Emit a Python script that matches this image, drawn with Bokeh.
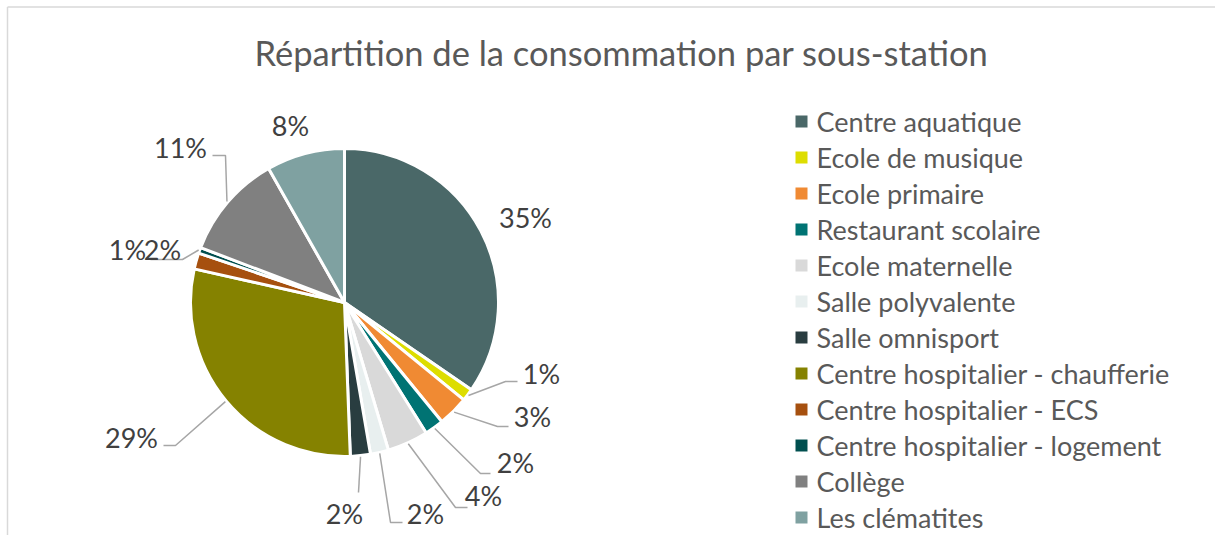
import math
from bokeh.plotting import figure
from bokeh.models import Range1d
from bokeh.core.properties import value
from bokeh.embed import file_html
from bokeh.resources import INLINE

# ---------------- data ----------------
title_text = "Répartition de la consommation par sous-station"
categories = [
    "Centre aquatique", "Ecole de musique", "Ecole primaire", "Restaurant scolaire",
    "Ecole maternelle", "Salle polyvalente", "Salle omnisport",
    "Centre hospitalier - chaufferie", "Centre hospitalier - ECS",
    "Centre hospitalier - logement", "Collège", "Les clématites",
]
shares = [34.6, 1.3, 3.2, 2.0, 4.3, 1.9, 2.1, 29.1, 1.7, 0.6, 11.0, 8.2]

# ---------------- styles ----------------
colors = ["#4A6868", "#DDDD00", "#F08A33", "#007373", "#D9D9D9", "#E8EFEF",
          "#293D40", "#858200", "#A6500F", "#004F4F", "#808080", "#7FA1A1"]
FONT = "Lato"
LABEL_COLOR = "#404040"
LEGEND_COLOR = "#595959"
LEADER_COLOR = "#A6A6A6"

# ---------------- layout (pixel coordinates from the canvas' top-left) ----------------
W, H = 1215, 535
CX, CY, R = 344, 302, 154
label_pos = [(525, 217), (541, 373), (532, 416), (515, 462), (483, 495), (425, 513),
             (344, 513), (131, 437), (162, 249), (127, 249), (180, 147), (290, 125)]
leaders = {1: [(505, 381), (517, 381)], 2: [(497, 426), (508, 426)],
           3: [(480, 473), (490, 473)], 4: [(455, 507), (467, 507)],
           5: [(390, 522), (402, 522)], 6: [(358, 492)],
           7: [(175, 445), (163, 445)], 9: [(182, 259), (150, 259)],
           10: [(225, 155), (212, 155)]}
legend_x, legend_y0, legend_dy = 801, 121, 36.0

p = figure(width=W, height=H, output_backend="svg", toolbar_location=None,
           x_range=Range1d(0, W), y_range=Range1d(-H, 0),
           min_border=0, outline_line_color=None)
p.axis.visible = False
p.grid.visible = False
p.background_fill_color = "white"
p.border_fill_color = "white"

# chart border (top and left)
p.segment(x0=[7, 7], y0=[-6.5, -6.5], x1=[W, 7], y1=[-6.5, -H],
          line_color="#D9D9D9", line_width=1.5)

# title
p.text(x=[621], y=[-52], text=[title_text], text_align="center", text_baseline="middle",
       text_font=value(FONT), text_font_size="34.5px", text_color="#595959")

# pie
total = sum(shares)
cum = 0.0
starts, ends, mids = [], [], []
for s in shares:
    a0 = math.pi / 2 - 2 * math.pi * (cum + s) / total
    a1 = math.pi / 2 - 2 * math.pi * cum / total
    starts.append(a0)
    ends.append(a1)
    mids.append((a0 + a1) / 2)
    cum += s
p.wedge(x=[CX] * len(shares), y=[-CY] * len(shares), radius=R,
        start_angle=starts, end_angle=ends, fill_color=colors,
        line_color="white", line_width=3)

# leader lines
xs, ys = [], []
for i, pts in leaders.items():
    sx = CX + (R + 1) * math.cos(mids[i])
    sy = -CY + (R + 1) * math.sin(mids[i])
    xs.append([sx] + [q[0] for q in pts])
    ys.append([sy] + [-q[1] for q in pts])
p.multi_line(xs=xs, ys=ys, line_color=LEADER_COLOR, line_width=1.5)

# data labels
labels = [f"{round(s / total * 100 + 1e-9):.0f}%" for s in shares]
p.text(x=[q[0] for q in label_pos], y=[-q[1] for q in label_pos], text=labels,
       text_align="center", text_baseline="middle", text_font=value(FONT),
       text_font_size="27px", text_color=LABEL_COLOR)

# legend
ly = [-(legend_y0 + i * legend_dy) for i in range(len(categories))]
p.scatter(x=[legend_x] * len(categories), y=ly, marker="square", size=12,
          fill_color=colors, line_color=None)
p.text(x=[legend_x + 15] * len(categories), y=ly, text=categories, text_align="left",
       text_baseline="middle", text_font=value(FONT), text_font_size="27px",
       text_color=LEGEND_COLOR)

open("out.html", "w").write(file_html(p, INLINE))
